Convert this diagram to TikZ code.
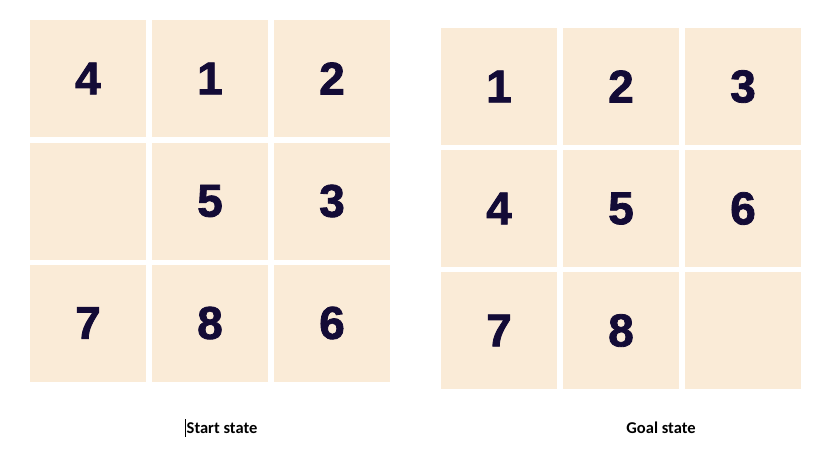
\documentclass[tikz,border=0pt]{standalone}
\usepackage{fontspec}
\setmainfont{Liberation Sans}
\newfontfamily\digitfont{Liberation Sans Bold}[FakeBold=1.8]
\newfontfamily\lblfont{Carlito}
\definecolor{tilebg}{HTML}{FAEBD7}
\definecolor{digit}{HTML}{130B36}
\begin{document}
\begin{tikzpicture}[x=1pt,y=-1pt,
  tile/.style={fill=tilebg,draw=none,minimum width=116pt,minimum height=117pt,inner sep=0pt},
  num/.style={text=digit,inner sep=0pt,font=\digitfont\fontsize{46}{46}\selectfont},
  lbl/.style={font=\lblfont\fontsize{16.5}{18}\selectfont\bfseries,text=black,inner sep=0pt}]
\useasboundingbox (0,0) rectangle (830,455);
% Start state
\foreach \r/\y in {0/78.5,1/201,2/323}{
  \foreach \c/\x in {0/88,1/210,2/332}{
    \node[tile] (s\r\c) at (\x,\y) {};
  }
}
\node[num] (ns00) at (s00) {4};
\node[num] (ns01) at (s01) {1};
\node[num] (ns02) at (s02) {2};
\node[num] (ns11) at (s11) {5};
\node[num] (ns12) at (s12) {3};
\node[num] (ns20) at (s20) {7};
\node[num] (ns21) at (s21) {8};
\node[num] (ns22) at (s22) {6};
% Goal state
\foreach \r/\y in {0/86.5,1/208.5,2/330.5}{
  \foreach \c/\x in {0/499,1/621,2/743}{
    \node[tile] (g\r\c) at (\x,\y) {};
  }
}
\node[num] (ng00) at (g00) {1};
\node[num] (ng01) at (g01) {2};
\node[num] (ng02) at (g02) {3};
\node[num] (ng10) at (g10) {4};
\node[num] (ng11) at (g11) {5};
\node[num] (ng12) at (g12) {6};
\node[num] (ng20) at (g20) {7};
\node[num] (ng21) at (g21) {8};
% labels
\node[lbl] (ls) at (222,428) {Start state};
\node[lbl] (lg) at (661,428) {Goal state};
\coordinate (cur1) at (185.5,419);
\coordinate (cur2) at (185.5,437);
\draw[line width=0.8pt] (cur1) -- (cur2);
\end{tikzpicture}
\end{document}
